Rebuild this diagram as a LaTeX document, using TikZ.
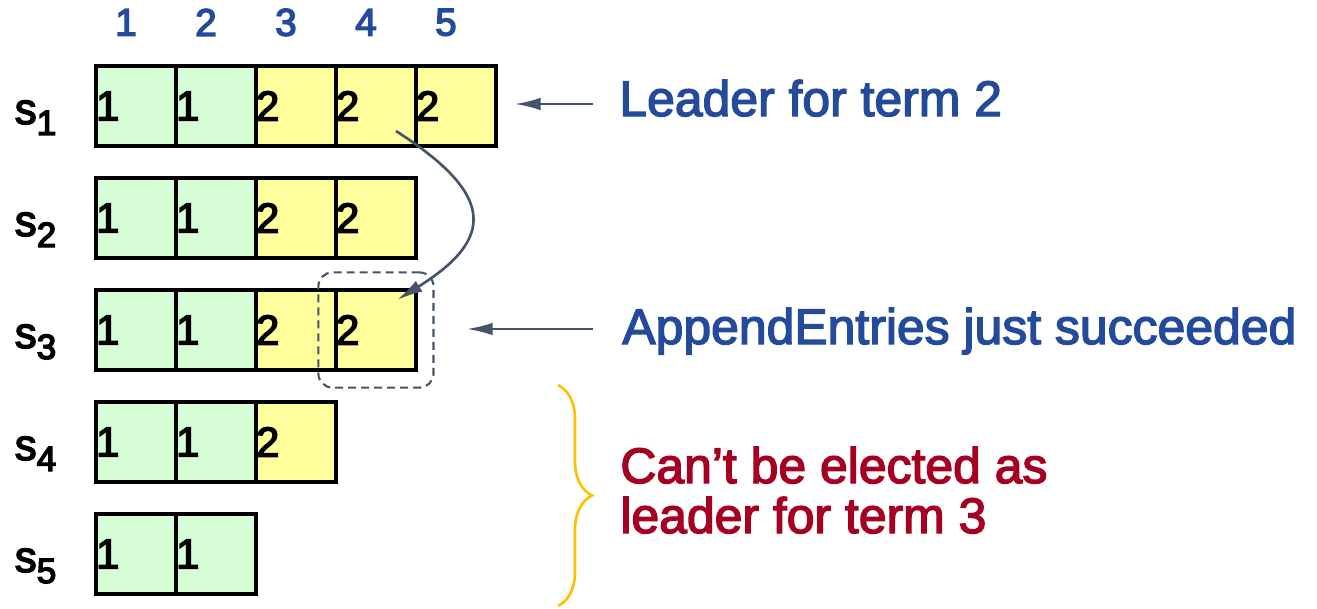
\documentclass[tikz,border=0pt]{standalone}
\usepackage{fontspec}
\setmainfont{Liberation Sans}
\usetikzlibrary{positioning,calc,fit,arrows.meta,decorations.pathreplacing}
\definecolor{termone}{RGB}{214,252,214}
\definecolor{termtwo}{RGB}{255,254,156}
\definecolor{idxblue}{RGB}{36,74,155}
\definecolor{errred}{RGB}{165,0,33}
\definecolor{slate}{RGB}{68,84,106}
\definecolor{bracegold}{RGB}{255,192,0}
\newcommand{\heavy}{\special{pdf:literal direct 2 Tr 0.8 w}}
\tikzset{
    logent/.style = {draw, rectangle, line width=1.8pt,
        minimum height=1.6cm, text width=1.6cm,
        inner sep=0pt, align=left, node distance=1.6cm,
        font=\fontsize{24}{24}\selectfont\heavy},
    t1/.style = {logent, fill=termone},
    t2/.style = {logent, fill=termtwo},
    idx/.style = {text=idxblue, font=\fontsize{22}{22}\selectfont\heavy},
    srvlabel/.style = {anchor=base west, inner sep=0pt,
        font=\fontsize{25}{25}\selectfont\heavy},
    note/.style = {anchor=base west, inner sep=0pt, align=left,
        font=\fontsize{28.4}{28.45}\selectfont\heavy},
    ptr/.style = {draw=slate, line width=1.5pt, -{Latex[length=0.52cm,width=0.25cm]}},
    hilite/.style = {draw=slate, line width=1.2pt, dash pattern=on 0.16cm off 0.1cm,
        rounded corners=0.28cm, inner sep=0.32cm},
    ballot/.style = {draw=bracegold, line width=1.5pt, decorate,
        decoration={brace, amplitude=0.68cm}}
}
\newcommand{\srvname}[1]{s\raisebox{-0.22cm}{\fontsize{20}{20}\selectfont #1}}

\begin{document}
\begin{tikzpicture}[x=0.02cm, y=-0.02cm]
    \useasboundingbox (0,0) rectangle (1317,608);
    % s1
    \node [t1] (c11) at (136,106) {1};
    \node [t1, right of=c11] (c12) {1};
    \node [t2, right of=c12] (c13) {2};
    \node [t2, right of=c13] (c14) {2};
    \node [t2, right of=c14] (c15) {2};
    % s2
    \node [t1] (c21) at (136,218) {1};
    \node [t1, right of=c21] (c22) {1};
    \node [t2, right of=c22] (c23) {2};
    \node [t2, right of=c23] (c24) {2};
    % s3
    \node [t1] (c31) at (136,330) {1};
    \node [t1, right of=c31] (c32) {1};
    \node [t2, right of=c32] (c33) {2};
    \node [t2, right of=c33] (c34) {2};
    % s4
    \node [t1] (c41) at (136,442) {1};
    \node [t1, right of=c41] (c42) {1};
    \node [t2, right of=c42] (c43) {2};
    % s5
    \node [t1] (c51) at (136,554) {1};
    \node [t1, right of=c51] (c52) {1};

    % server names and log indices
    \foreach \row in {1,...,5}
        \node [srvlabel] (s\row) at ($(c\row1.west)+(-80,18)$) {\srvname{\row}};
    \foreach \col in {1,...,5}
        \node [idx] (i\col) at ($(c1\col.north)+(-10,-42)$) {\col};

    \node [hilite, fit=(c34)] (ok) {};
    \node [note, text=idxblue] (lead) at (619,116) {Leader for term 2};
    \node [note, text=idxblue] (apnd) at (622,344) {AppendEntries just succeeded};
    \node [note, text=errred] (noelect) at (620,533) {Can’t be elected as\\leader for term 3};

    \coordinate (leadtail) at ($(lead.base west)+(-26,-12)$);
    \draw [ptr, shorten >=0.34cm] (leadtail) -- (leadtail -| c15.east);
    \coordinate (apndtail) at ($(apnd.base west)+(-29,-15)$);
    \draw [ptr, shorten >=0.64cm] (apndtail) -- (apndtail -| ok.east);

    % replicated entry
    \coordinate (from) at ($(c14.center)+(20,25)$);
    \coordinate (to) at ($(c34.center)+(21,-30)$);
    \draw [ptr] (from) .. controls +(100,64) and +(98,-61) .. (to);

    % s4 and s5 behind
    \coordinate (btop) at (558,385);
    \coordinate (bbot) at (558,606);
    \draw [ballot] (btop) -- (bbot);
\end{tikzpicture}
\end{document}
